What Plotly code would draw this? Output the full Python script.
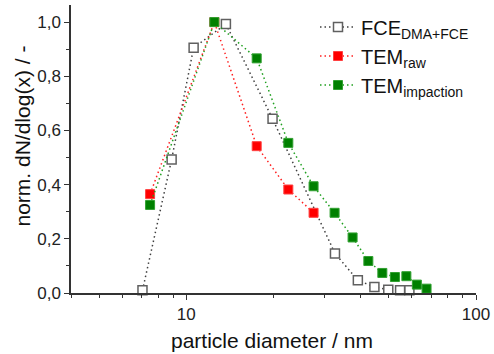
import plotly.graph_objects as go

# FCE (DMA+FCE) data
fce_x = [7.06, 8.9, 10.6, 13.7, 19.85, 32.6, 39.1, 44.6, 49.8, 54.7, 58.9]
fce_y = [0.01, 0.493, 0.905, 0.993, 0.643, 0.146, 0.047, 0.022, 0.012, 0.01, 0.01]

# TEM raw
raw_x = [7.5, 12.5, 17.5, 22.5, 27.5]
raw_y = [0.365, 1.0, 0.542, 0.382, 0.296]

# TEM impaction
imp_x = [7.5, 12.5, 17.5, 22.5, 27.5, 32.5, 37.5, 42.5, 47.5, 52.5, 57.5, 62.5, 67.5]
imp_y = [0.325, 1.0, 0.866, 0.554, 0.394, 0.296, 0.205, 0.118, 0.074, 0.059, 0.062, 0.031, 0.016]

names = ["FCE<sub>DMA+FCE</sub>", "TEM<sub>raw</sub>", "TEM<sub>impaction</sub>"]
x_title = "particle diameter / nm"
y_title = "norm. dN/dlog(x) / -"

x_major = [10, 100]
x_minor = [4, 5, 6, 7, 8, 9, 20, 30, 40, 50, 60, 70, 80, 90]
y_major = [0.0, 0.2, 0.4, 0.6, 0.8, 1.0]
y_minor = [0.1, 0.3, 0.5, 0.7, 0.9]

FONT = "Liberation Sans, Arial, sans-serif"
DASH = "1.5px,3px"

# plot area in pixels (for placing titles / legend)
L, R, T, B = 71, 476, 5, 293
def px(x):
    return (x - L) / (R - L)
def py(y):
    return (B - y) / (B - T)

fig = go.Figure()
fig.add_trace(go.Scatter(
    x=fce_x, y=fce_y, name=names[0], mode="lines+markers",
    line=dict(color="#404040", width=1.5, dash=DASH),
    marker=dict(symbol="square", size=9, color="white", line=dict(color="#606060", width=1.5)),
    cliponaxis=False,
))
fig.add_trace(go.Scatter(
    x=raw_x, y=raw_y, name=names[1], mode="lines+markers",
    line=dict(color="#ff2020", width=1.5, dash=DASH),
    marker=dict(symbol="square", size=9, color="#ff0000", line=dict(color="#ff4040", width=1)),
    cliponaxis=False,
))
fig.add_trace(go.Scatter(
    x=imp_x, y=imp_y, name=names[2], mode="lines+markers",
    line=dict(color="#20a020", width=1.5, dash=DASH),
    marker=dict(symbol="square", size=9, color="#008000", line=dict(color="#30a030", width=1)),
    cliponaxis=False,
))

fig.update_layout(
    width=494, height=354,
    margin=dict(l=L, r=494 - R, t=T, b=354 - B, autoexpand=False),
    paper_bgcolor="white", plot_bgcolor="white",
    separators=",.",
    font=dict(family=FONT, size=17, color="#222"),
    showlegend=True,
    legend=dict(
        x=px(315), xanchor="left",
        y=py(7.5), yanchor="top",
        bgcolor="rgba(0,0,0,0)",
        font=dict(size=20, color="#111"),
        tracegroupgap=0,
        itemwidth=36,
    ),
    xaxis=dict(
        type="log", range=[0.60206, 2], automargin=False,
        tickvals=x_major, ticktext=["10", "100"],
        ticks="outside", ticklen=5, tickwidth=1.2, tickcolor="#333",
        showline=True, linecolor="#333", linewidth=1.5,
        showgrid=False, zeroline=False,
        minor=dict(tickvals=x_minor, ticks="outside", ticklen=3, tickwidth=1, tickcolor="#333", showgrid=False),
        tickfont=dict(size=17),
    ),
    yaxis=dict(
        range=[0, 1.063], automargin=False,
        tickvals=y_major, tickformat=".1f",
        ticks="outside", ticklen=5, tickwidth=1.2, tickcolor="#333",
        showline=True, linecolor="#333", linewidth=1.5,
        showgrid=False, zeroline=False,
        minor=dict(tickvals=y_minor, ticks="outside", ticklen=3, tickwidth=1, tickcolor="#333", showgrid=False),
        tickfont=dict(size=17),
    ),
    annotations=[
        dict(text=x_title, xref="paper", yref="paper", x=px(271.5), y=py(340),
             xanchor="center", yanchor="middle", showarrow=False,
             font=dict(size=21, color="#111")),
        dict(text=y_title, xref="paper", yref="paper", x=px(22), y=py(136.5),
             xanchor="center", yanchor="middle", showarrow=False, textangle=-90,
             font=dict(size=21, color="#111")),
    ],
)

fig.write_html("out.html", config={"displayModeBar": False},
               post_script="document.body.style.margin='0';")
